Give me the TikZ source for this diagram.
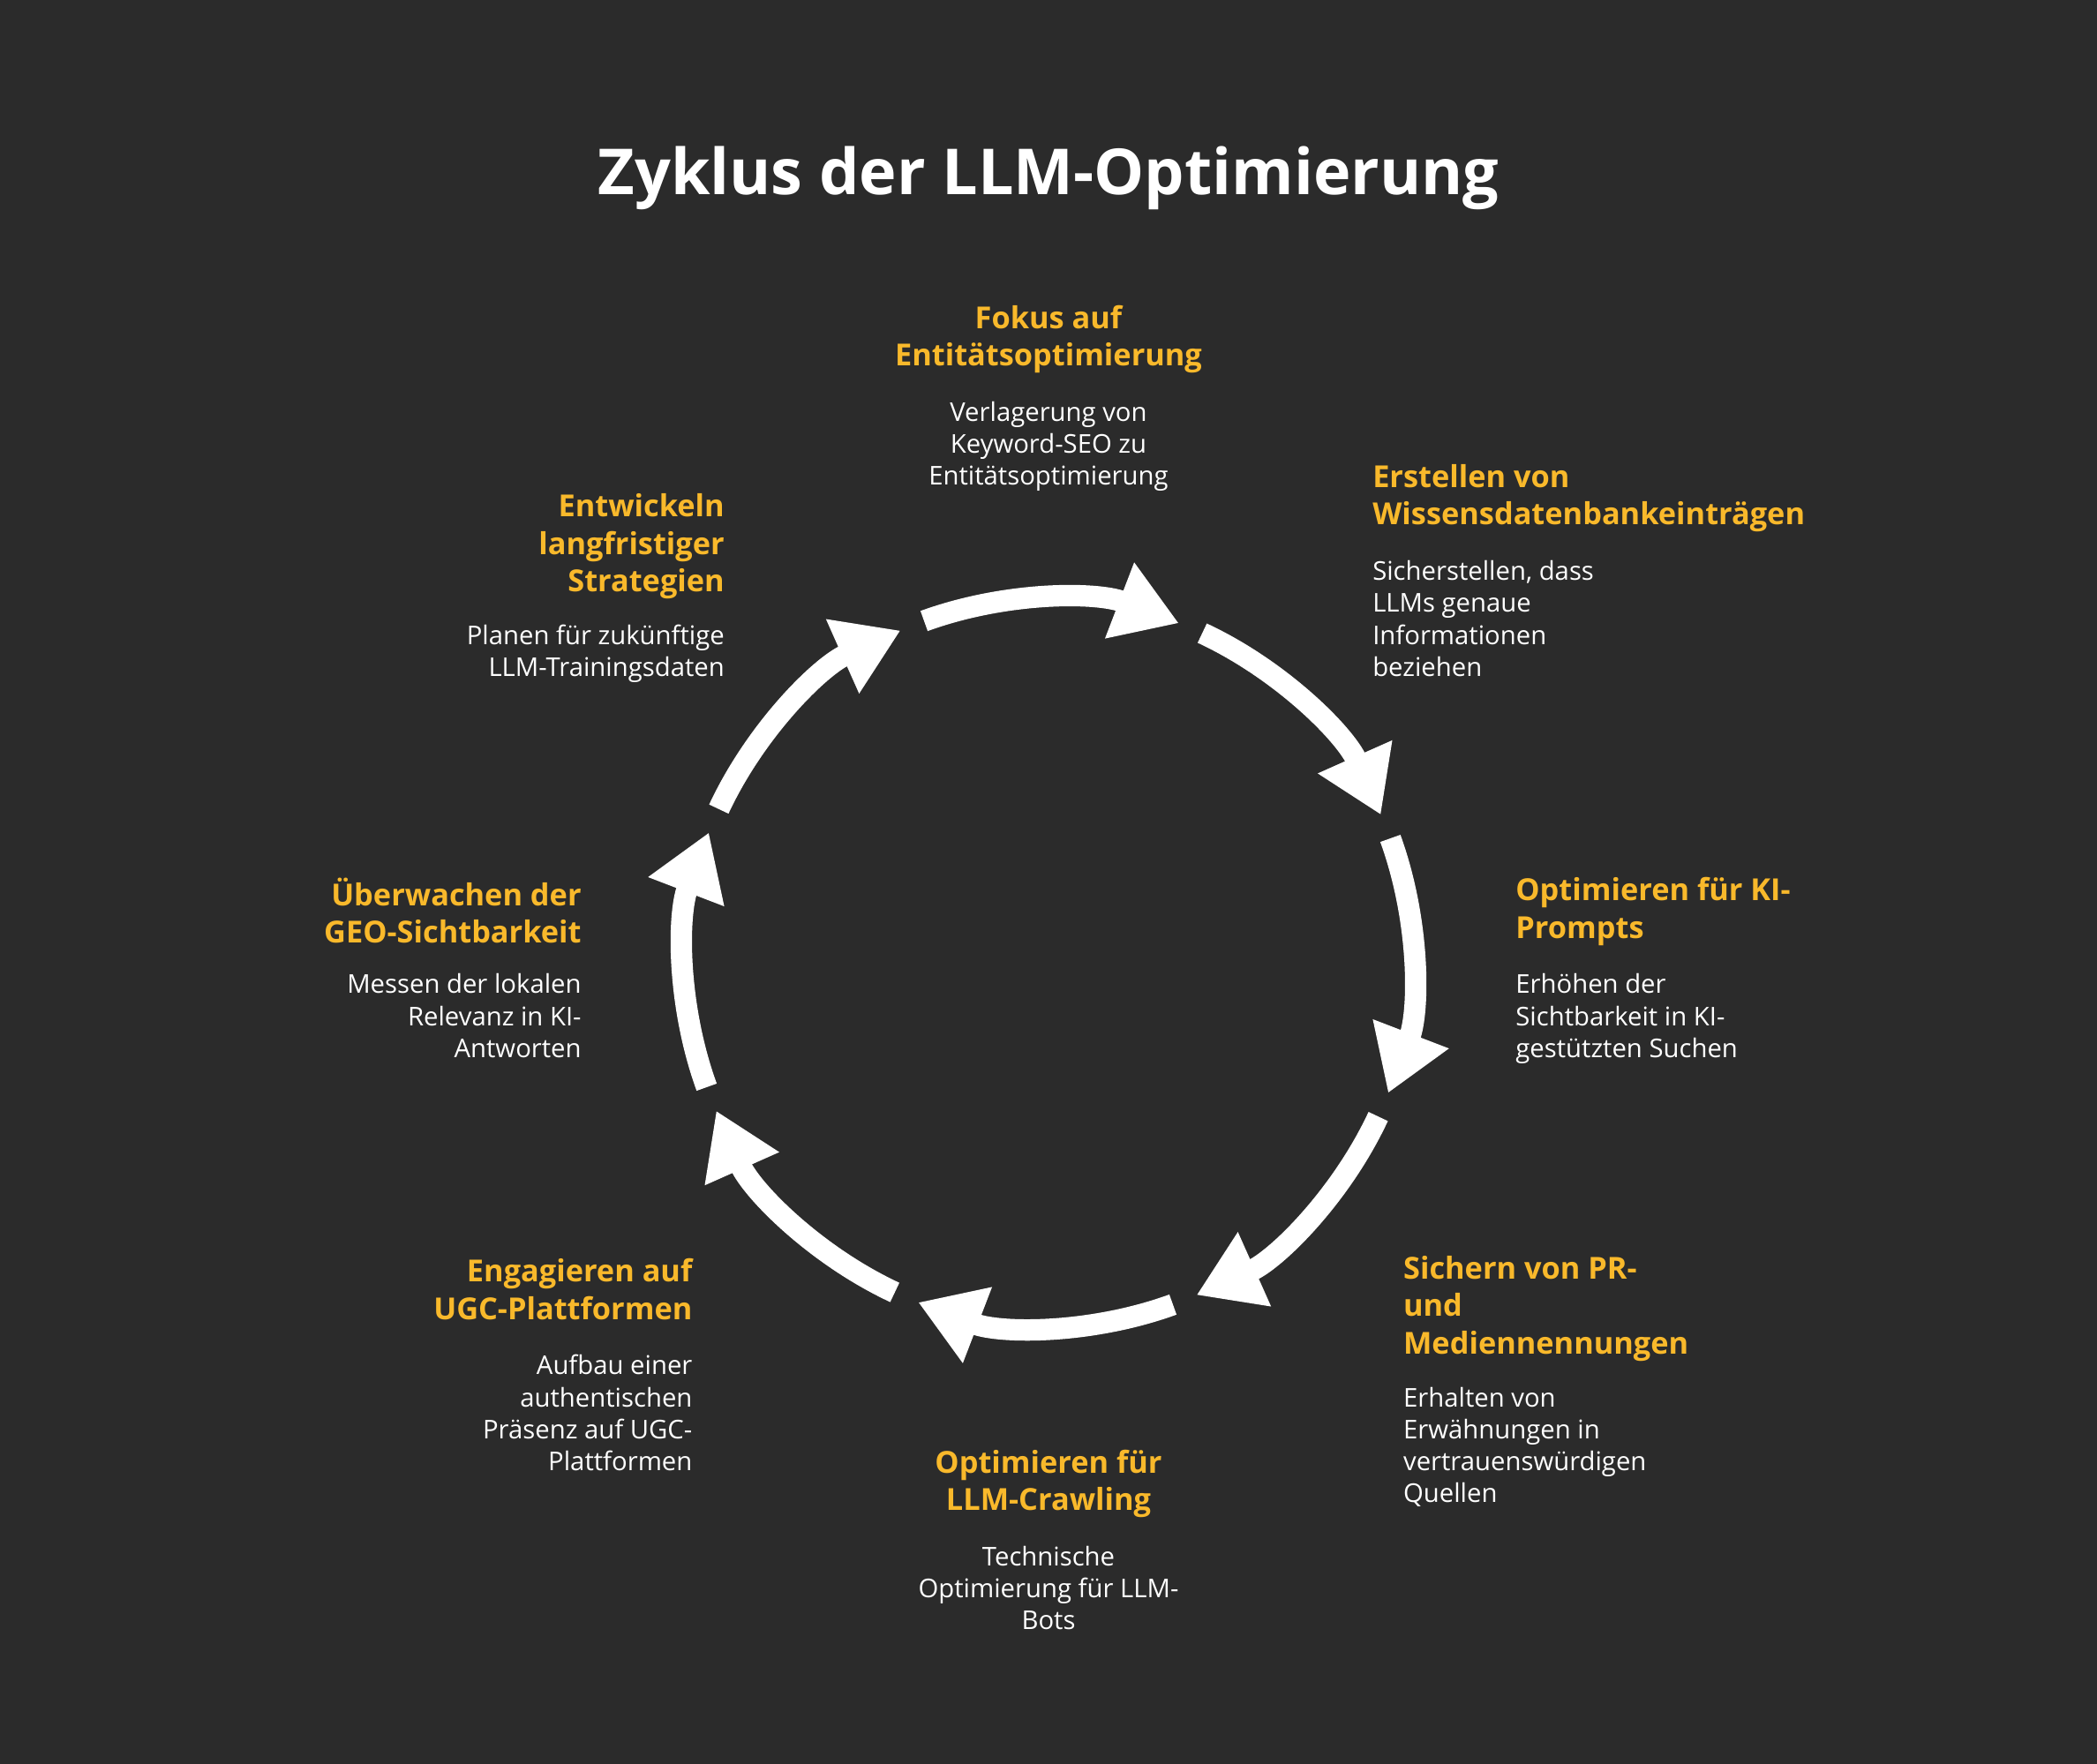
\documentclass[tikz,border=0pt]{standalone}
\usepackage{fontspec}
\setmainfont{Open Sans}
\usetikzlibrary{arrows.meta}
\definecolor{bgdark}{HTML}{2B2B2B}
\definecolor{headgold}{HTML}{F9B92B}
\tikzset{
  head/.style={text=headgold,font=\fontsize{12.9}{15.9}\selectfont\bfseries,inner sep=0pt},
  body/.style={text=white,font=\fontsize{11}{13.6}\selectfont,inner sep=0pt},
  cyclearrow/.style={white,line width=0.32cm,-{Triangle[width=1.15cm,length=0.95cm]}}
}
\begin{document}
\begin{tikzpicture}[x=0.02cm,y=-0.02cm]
\fill[bgdark] (0,0) rectangle (1568,1319);
\useasboundingbox (0,0) rectangle (1568,1319);

\node[text=white,font=\fontsize{27}{32}\selectfont\bfseries] (title) at (784,133) {Zyklus der LLM-Optimierung};

% Cycle arrows
\begin{scope}[shift={(784,720)},x=0.02cm,y=0.02cm]
\foreach \c in {90,45,0,-45,-90,-135,-180,-225}
  \draw[cyclearrow] (\c+20:272) arc[start angle=\c+20,end angle=\c-21,radius=272];
\end{scope}

% Steps
\node[head,anchor=north,align=center] (h1) at (784,228) {Fokus auf\\Entitätsoptimierung};
\node[body,anchor=north,align=center] (b1) at (784,300) {Verlagerung von\\Keyword-SEO zu\\Entitätsoptimierung};

\node[head,anchor=north west,align=left] (h2) at (1026,347) {Erstellen von\\Wissensdatenbankeinträgen};
\node[body,anchor=north west,align=left] (b2) at (1026,419) {Sicherstellen, dass\\LLMs genaue\\Informationen\\beziehen};

\node[head,anchor=north west,align=left] (h3) at (1133,656) {Optimieren für KI-\\Prompts};
\node[body,anchor=north west,align=left] (b3) at (1133,728) {Erhöhen der\\Sichtbarkeit in KI-\\gestützten Suchen};

\node[head,anchor=north west,align=left] (h4) at (1049,939) {Sichern von PR-\\und\\Mediennennungen};
\node[body,anchor=north west,align=left] (b4) at (1049,1037) {Erhalten von\\Erwähnungen in\\vertrauenswürdigen\\Quellen};

\node[head,anchor=north,align=center] (h5) at (784,1084) {Optimieren für\\LLM-Crawling};
\node[body,anchor=north,align=center] (b5) at (784,1156) {Technische\\Optimierung für LLM-\\Bots};

\node[head,anchor=north east,align=right] (h6) at (518,941) {Engagieren auf\\UGC-Plattformen};
\node[body,anchor=north east,align=right] (b6) at (518,1013) {Aufbau einer\\authentischen\\Präsenz auf UGC-\\Plattformen};

\node[head,anchor=north east,align=right] (h7) at (435,656) {Überwachen der\\GEO-Sichtbarkeit};
\node[body,anchor=north east,align=right] (b7) at (435,728) {Messen der lokalen\\Relevanz in KI-\\Antworten};

\node[head,anchor=north east,align=right] (h8) at (542,369) {Entwickeln\\langfristiger\\Strategien};
\node[body,anchor=north east,align=right] (b8) at (542,467) {Planen für zukünftige\\LLM-Trainingsdaten};
\end{tikzpicture}
\end{document}
